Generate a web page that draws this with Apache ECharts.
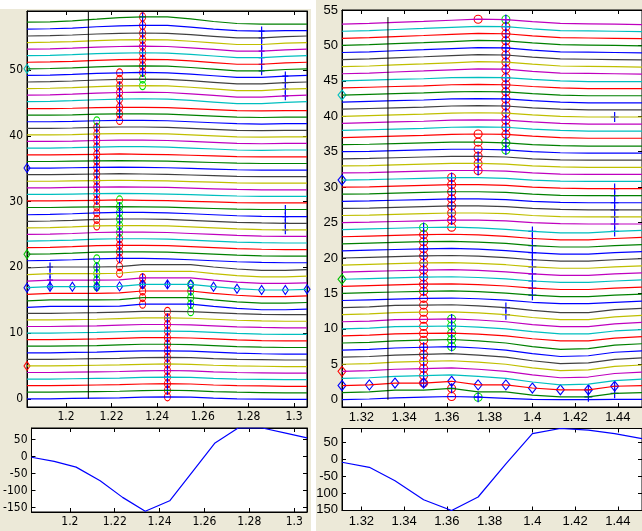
<!DOCTYPE html>
<html><head><meta charset="utf-8">
<script src="https://cdn.jsdelivr.net/npm/echarts@6/dist/echarts.min.js"></script>
<style>html,body{margin:0;padding:0;background:#ECE9D8;overflow:hidden}#c{width:642px;height:531px}</style>
</head><body><div id="c"></div>
<script>
// ================= DATA =================
// sample times of the two gathers
const leftTimes  = [1.1829,1.1930,1.2028,1.2135,1.2235,1.2336,1.2445,1.2547,1.2647,1.2750,1.2858,1.2962,1.3057];
const rightTimes = [1.3109,1.3237,1.3357,1.3491,1.3622,1.3746,1.3876,1.4000,1.4131,1.4262,1.4385,1.4513];

// trace deviation shapes (offset from trace index)
const leftShapes = [
  [0,0,0.05,0.1,0.15,0.25,0.3,0.25,0.1,0,-0.05,-0.1,-0.1],
  [0,0,0.05,0.1,0.2,0.3,0.3,0.25,0.1,-0.05,-0.15,-0.2,-0.2],
  [-0.1,0.05,0.05,0.05,0.1,0.4,0.4,0.4,0.05,-0.25,-0.45,-0.45,-0.35],
  [0,0.05,0.15,0.3,0.35,0.35,0.3,0.15,0,-0.15,-0.25,-0.3,-0.3],
  [0.1,0.1,0.15,0.2,0.25,0.2,0.15,0.05,-0.05,-0.15,-0.2,-0.2,-0.2],
  [0.15,0.15,0.2,0.3,0.35,0.35,0.3,0.15,0,-0.15,-0.2,-0.15,-0.15],
  [0.2,0.25,0.35,0.5,0.6,0.65,0.6,0.4,0.15,-0.1,-0.1,0.1,0.2],
  [0.25,0.3,0.4,0.6,0.75,0.8,0.8,0.55,0.25,0,-0.05,0,0],
  [0.3,0.35,0.5,0.75,1.0,1.1,1.1,0.8,0.4,0.1,0,0,0]
];
// shape used by each trace 0..57
const leftTraceShape = [0,0,0,0,0,0,0, 1,1,1,1,1,1,1, 2,2,2,2,2,2,2, 3,3,3,3,3,3,3,3,
  4,4,4,4,4,4,4,4,4, 5,5,5,5,5,5,5, 6,6,6,6,6,6,6,6,6,6,6, 7, 8];

const rightShapes = [
  [0,0.1,0.25,0.35,0.45,0.35,0.2,0.05,0,0,0.05,0.05],
  [0,0.1,0.35,0.35,0.6,0.1,0.1,-0.35,-0.6,-0.6,-0.1,0],
  [0,0.1,0.3,0.4,0.5,0.3,0,-0.5,-0.9,-0.8,-0.3,-0.1],
  [0,0.1,0.3,0.35,0.4,0.25,0,-0.4,-0.7,-0.7,-0.3,-0.1],
  [0,0.1,0.2,0.3,0.35,0.25,0.05,-0.25,-0.45,-0.45,-0.25,-0.1],
  [0,0.05,0.15,0.25,0.35,0.35,0.25,0,-0.15,-0.2,-0.2,-0.2],
  [0,0.1,0.2,0.3,0.45,0.5,0.45,0.2,0,-0.1,-0.1,-0.1],
  [0,0.1,0.25,0.4,0.55,0.7,0.65,0.35,0.1,0.05,0,-0.05]
];
// shape used by each trace 0..53
const rightTraceShape = [0, 1,1, 2,2,2,2,2,2, 3,3,3,3,3, 4,4,4,4,4,4,4,4,4,4,4,
  5,5,5,5,5,5,5,5,5,5,5,5, 6,6,6,6,6,6,6,6,6, 7,7,7,7,7,7,7,7];

// lower panels: stacked/summed waveform
const leftWave  = [-2,-14,-31,-71,-120,-161,-130,-44,40,84,84,69,55];
const rightWave = [-9,-24,-64,-120,-152,-112,-14,76,91,86,76,61];

// cursors
const leftCursor  = [1.2098, 0, 59];
const rightCursor = [1.3324, 0, 54];

// tick labels
const leftXTicks  = [1.2,1.22,1.24,1.26,1.28,1.3];
const rightXTicks = [1.32,1.34,1.36,1.38,1.4,1.42,1.44];
const leftYTicks  = [0,10,20,30,40,50];
const rightYTicks = [0,5,10,15,20,25,30,35,40,45,50,55];
const waveYTicks  = [-150,-100,-50,0,50];

// picks: [sample index, [trace indices]]
const leftRedCircles   = [[3,[26,27,28,29,30,31,32,33,34,35,36,37,38,39,40,41]],[4,[42,43,44,45,46,47,48,49]],[4,[19,20,21,22,23,24]],[5,[49,50,51,52,53,54,55,56,57]],[5,[14,15,16,17,18]],[6,[0,1,2,3,4,5,6,7,8,9,10,11,12,13]]];
const leftGreenCircles = [[3,[42]],[3,[17,18,19,20,21]],[4,[25,26,27,28,29,30]],[5,[47,48]],[7,[13,14,15,16,17]]];
const leftBluePlus     = [[1,[17,18,19,20]],[3,[30,31,32,33,34,35,36,37,38,39,40,41]],[3,[17,18,19,20]],[4,[43,44,45,46,47]],[4,[21,22,23,24,25,26,27,28,29]],[5,[49,50,51,52,53,54,55,56,57]],[5,[17,18]],[6,[1,2,3,4,5,6,7,8,9,10,11,12]],[6,[17]],[7,[14,16]],[10,[50,51,52,53,54,55,56]],[11,[46,47,48,49]],[11,[26,27,28,29]]];
const leftBlueDiamonds = [[0,[17,35]],[1,[17]],[2,[17]],[3,[17]],[4,[17]],[5,[17]],[6,[17]],[7,[17]],[8,[17]],[9,[17]],[10,[17]],[11,[17]],[12,[17]]];
const leftCyanDiamonds = [[0,[50]]];
const leftGreenDiamonds= [[0,[22]]];
const leftRedDiamonds  = [[0,[5]]];

const rightRedCircles   = [[3,[2,3,4,5,6,7,8,9,10,11,12,13,14,15,16,17,18,19,20,21,22,23]],[4,[24,25,26,27,28,29,30,31]],[4,[0,1]],[5,[32,33,34,35,36,37]],[5,[53]],[6,[37,38,39,40,41,42,43,44,45,46,47,48,49,50,51,52]]];
const rightGreenCircles = [[3,[24]],[4,[7,8,9,10,11]],[5,[0]],[6,[35,36,53]]];
const rightBluePlus     = [[3,[15,16,17,18,19,20,21,22,23,24]],[3,[2,3,4,5,6,7]],[4,[25,26,27,28,29,30,31]],[4,[7,8,9,10,11]],[4,[1]],[5,[32,33,34]],[5,[0]],[6,[35,36,37,38,39,40,41,42,43,44,45,46,47,48,49,50,51,52,53]],[6,[12,13]],[7,[15,16,17,18,19,20,21,22,23,24]],[9,[1,2]],[10,[1,2]],[10,[24,25,26,27,28,29,30]],[10,[40]]];
const rightBlueDiamonds = [[0,[2,31]],[1,[2]],[2,[2]],[3,[2]],[4,[2]],[5,[2]],[6,[2]],[7,[2]],[8,[2]],[9,[2]],[10,[2]]];
const rightCyanDiamonds = [[0,[43]]];
const rightGreenDiamonds= [[0,[17]]];
const rightRedDiamonds  = [[0,[4]]];

// MATLAB default colour order
const traceColors = ['#0000ff','#008000','#ff0000','#00bfbf','#bf00bf','#bfbf00','#404040'];

// ================= BUILD =================
const chart = echarts.init(document.getElementById('c'), null, {renderer:'canvas'});
const leftFont  = "'Liberation Sans Narrow','DejaVu Sans Condensed','Arial Narrow','Liberation Sans',sans-serif";
const rightFont = "'Liberation Sans',Arial,sans-serif";

const grids = [
  {left:27,  top:11,   width:280, height:396},
  {left:342, top:10,   width:304, height:397},
  {left:27,  top:428,  width:280, height:84},
  {left:342, top:428.5,width:304, height:82}
];
const gx = [
  {min:leftTimes[0],  max:leftTimes[12],  ticks:leftXTicks,  font:leftFont,  fs:12},
  {min:rightTimes[0], max:rightTimes[11], ticks:rightXTicks, font:rightFont, fs:13},
  {min:leftTimes[0],  max:leftTimes[12],  ticks:leftXTicks,  font:leftFont,  fs:12},
  {min:rightTimes[0], max:rightTimes[11], ticks:rightXTicks, font:rightFont, fs:13}
];
const gy = [
  {min:-1.25, max:59, ticks:leftYTicks},
  {min:-1.03, max:55, ticks:rightYTicks},
  {min:-163,  max:84, ticks:waveYTicks},
  {min:-152,  max:91, ticks:waveYTicks}
];
const xAxis = [], yAxis = [];
const lineStyle = {color:'#000', width:1};
grids.forEach((g,i)=>{
  const X = gx[i], Y = gy[i];
  ['bottom','top'].forEach(pos=>{
    xAxis.push({type:'value', gridIndex:i, position:pos, min:X.min, max:X.max,
      axisLine:{show:true,onZero:false,lineStyle},
      axisTick:{show:true,inside:true,length:4,lineStyle,customValues:X.ticks},
      axisLabel:{show:pos==='bottom',customValues:X.ticks,color:'#000',fontFamily:X.font,fontSize:X.fs,margin:4,showMinLabel:true,showMaxLabel:true},
      splitLine:{show:false}});
  });
  ['left','right'].forEach(pos=>{
    yAxis.push({type:'value', gridIndex:i, position:pos, min:Y.min, max:Y.max,
      axisLine:{show:true,onZero:false,lineStyle},
      axisTick:{show:true,inside:true,length:4,lineStyle,customValues:Y.ticks},
      axisLabel:{show:pos==='left',customValues:Y.ticks,color:'#000',fontFamily:X.font,fontSize:X.fs,margin:4},
      splitLine:{show:false}});
  });
});

const series = [];
function traceY(shapes, assign, t, k){ return t + shapes[assign[t]][k]; }
function addTraces(gi, times, shapes, assign){
  assign.forEach((s,t)=>{
    series.push({type:'line', xAxisIndex:2*gi, yAxisIndex:2*gi, silent:true, symbol:'none', animation:false,
      lineStyle:{color:traceColors[t%7], width:1.2}, data: times.map((x,k)=>[x, traceY(shapes,assign,t,k)])});
  });
}
function addMarkers(gi, cols, times, shapes, assign, symbol, size, color, filled){
  const data = [];
  cols.forEach(([k,tr])=>tr.forEach(t=>data.push([times[k], traceY(shapes,assign,t,k)])));
  series.push({type:'scatter', xAxisIndex:2*gi, yAxisIndex:2*gi, silent:true, animation:false, clip:false,
    symbol, symbolSize:size,
    itemStyle: filled ? {color:color, borderWidth:0, opacity:1}
                      : {color:'rgba(0,0,0,0)', borderColor:color, borderWidth:1.1, opacity:1}, data});
}
const PLUS_L = 'path://M2.4,0H3.6V3.9H6V5.1H3.6V9H2.4V5.1H0V3.9H2.4Z';
const PLUS_R = 'path://M3.4,0H4.6V4.4H8V5.6H4.6V10H3.4V5.6H0V4.4H3.4Z';

addTraces(0, leftTimes, leftShapes, leftTraceShape);
addTraces(1, rightTimes, rightShapes, rightTraceShape);
// cursors
series.push({type:'line',xAxisIndex:0,yAxisIndex:0,symbol:'none',silent:true,animation:false,lineStyle:{color:'#000',width:1},
  data:[[leftCursor[0],leftCursor[1]],[leftCursor[0],leftCursor[2]]]});
series.push({type:'line',xAxisIndex:2,yAxisIndex:2,symbol:'none',silent:true,animation:false,lineStyle:{color:'#000',width:1},
  data:[[rightCursor[0],rightCursor[1]],[rightCursor[0],rightCursor[2]]]});

const LS = [leftTimes, leftShapes, leftTraceShape], RS = [rightTimes, rightShapes, rightTraceShape];
addMarkers(0, leftRedCircles,   ...LS, 'circle', [6,8], '#ff0000');
addMarkers(0, leftGreenCircles, ...LS, 'circle', [6,8], '#00e000');
addMarkers(0, leftBlueDiamonds, ...LS, 'diamond', [6,9], '#0000ff');
addMarkers(0, leftCyanDiamonds, ...LS, 'diamond', [6,9], '#00bfbf');
addMarkers(0, leftGreenDiamonds,...LS, 'diamond', [6,9], '#00c000');
addMarkers(0, leftRedDiamonds,  ...LS, 'diamond', [6,9], '#ff0000');
addMarkers(0, leftBluePlus,     ...LS, PLUS_L, [6,9], '#0000ff', true);

addMarkers(1, rightRedCircles,   ...RS, 'circle', [8,8], '#ff0000');
addMarkers(1, rightGreenCircles, ...RS, 'circle', [8,8], '#00e000');
addMarkers(1, rightBlueDiamonds, ...RS, 'diamond', [8,10], '#0000ff');
addMarkers(1, rightCyanDiamonds, ...RS, 'diamond', [8,10], '#00bfbf');
addMarkers(1, rightGreenDiamonds,...RS, 'diamond', [8,10], '#00c000');
addMarkers(1, rightRedDiamonds,  ...RS, 'diamond', [8,10], '#ff0000');
addMarkers(1, rightBluePlus,     ...RS, PLUS_R, [8,10], '#0000ff', true);

// waveforms
series.push({type:'line',xAxisIndex:4,yAxisIndex:4,symbol:'none',silent:true,animation:false,lineStyle:{color:'#0000ff',width:1.2},
  data:leftTimes.map((x,k)=>[x,leftWave[k]])});
series.push({type:'line',xAxisIndex:6,yAxisIndex:6,symbol:'none',silent:true,animation:false,lineStyle:{color:'#0000ff',width:1.2},
  data:rightTimes.map((x,k)=>[x,rightWave[k]])});

chart.setOption({
  backgroundColor:'#ECE9D8',
  animation:false,
  grid: grids.map(g=>Object.assign({show:true, backgroundColor:'#ffffff', borderColor:'#000', borderWidth:1, containLabel:false}, g)),
  xAxis, yAxis, series,
  graphic:[
    {type:'rect', z:100, shape:{x:0,y:0,width:311,height:9}, style:{fill:'#ffffff'}},
    {type:'rect', z:100, shape:{x:311,y:0,width:5,height:531}, style:{fill:'#ffffff'}}
  ]
});
</script></body></html>
